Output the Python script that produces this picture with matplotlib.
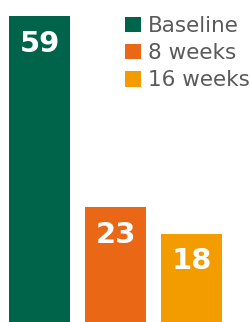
import matplotlib
matplotlib.use("Agg")
import matplotlib.pyplot as plt

# values
labels = ["Baseline", "8 weeks", "16 weeks"]
values = [59, 23, 18]
colors = ["#00644b", "#ea6815", "#f39c00"]

W, H, DPI = 251, 322, 100
fig = plt.figure(figsize=(W / DPI, H / DPI), dpi=DPI)

# axes run a little below the canvas: the bars are cut by the bottom edge
ax = fig.add_axes([0, -0.0217, 1, 0.972])
bars = ax.bar(range(len(values)), values, width=0.803, color=colors, label=labels)
ax.set_xlim(-0.520, 2.783)
ax.set_ylim(0, max(values))
ax.axis("off")

for b, v in zip(bars, values):
    ax.annotate(str(v), (b.get_x() + b.get_width() / 2, b.get_height()),
                xytext=(0, -25.9), textcoords="offset points",
                ha="center", va="baseline", color="white",
                fontsize=21, fontweight="bold")

leg = ax.legend(handles=list(bars), labels=labels, loc="upper left",
                bbox_to_anchor=(125 / W, 1 - 16 / H), bbox_transform=fig.transFigure,
                frameon=False, fontsize=15.5, handlelength=0.75, handleheight=0.75,
                handletextpad=0.3, labelspacing=0.33, borderpad=0, borderaxespad=0)
for t in leg.get_texts():
    t.set_color("#5a5a5a")

fig.savefig("out.png", dpi=DPI)
